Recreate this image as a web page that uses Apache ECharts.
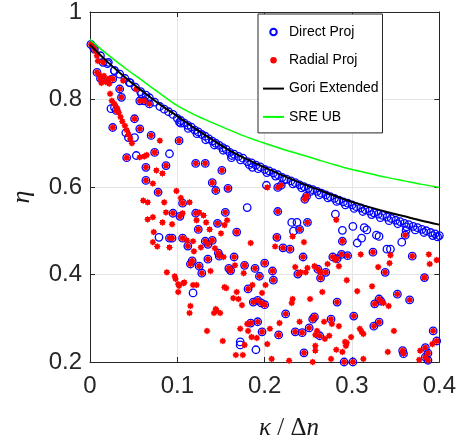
<!DOCTYPE html>
<html><head><meta charset="utf-8">
<script src="https://cdn.jsdelivr.net/npm/echarts@6/dist/echarts.min.js"></script>
<style>html,body{margin:0;padding:0;background:#fff}#c{width:459px;height:439px}</style>
</head><body><div id="c"></div>
<script>
// ---- data ----
const curveX = [0,0.02,0.04,0.06,0.08,0.10,0.12,0.14,0.16,0.18,0.20,0.22,0.24,0.26,0.28,0.30,0.32,0.34,0.36,0.38,0.40];
const goriY  = [0.925,0.886,0.851,0.819,0.789,0.762,0.734,0.708,0.683,0.663,0.645,0.627,0.610,0.595,0.580,0.566,0.554,0.543,0.533,0.523,0.514];
const sreY   = [0.937,0.903,0.872,0.843,0.814,0.786,0.765,0.747,0.730,0.714,0.700,0.687,0.675,0.663,0.651,0.640,0.631,0.622,0.614,0.606,0.599];

// blue circles lying along the bound
const bandPts = [
[0.005,0.915],[0.012,0.900],[0.020,0.882],[0.028,0.866],[0.034,0.858],[0.040,0.848],[0.046,0.838],[0.052,0.828],[0.058,0.818],[0.064,0.810],
[0.068,0.804],[0.074,0.794],[0.080,0.784],[0.085,0.778],[0.090,0.772],[0.095,0.766],[0.100,0.757],[0.104,0.752],[0.108,0.746],[0.112,0.741],
[0.116,0.737],[0.120,0.730],[0.124,0.726],[0.128,0.720],[0.132,0.716],[0.136,0.710],[0.140,0.705],[0.144,0.700],[0.148,0.695],[0.152,0.690],
[0.156,0.686],[0.160,0.679],[0.165,0.675],[0.170,0.670],[0.175,0.666],[0.180,0.658],[0.185,0.655],[0.190,0.650],[0.195,0.646],[0.200,0.640],
[0.205,0.637],[0.210,0.632],[0.215,0.628],[0.220,0.622],[0.225,0.618],[0.230,0.614],[0.235,0.610],[0.240,0.605],[0.245,0.601],[0.250,0.597],
[0.255,0.594],[0.260,0.590],[0.265,0.586],[0.270,0.582],[0.275,0.578],[0.280,0.574],[0.285,0.570],[0.290,0.566],[0.295,0.563],[0.300,0.559],
[0.305,0.555],[0.310,0.552],[0.315,0.548],[0.320,0.545],[0.325,0.541],[0.330,0.538],[0.335,0.535],[0.340,0.531],[0.345,0.528],[0.350,0.524],
[0.355,0.521],[0.360,0.517],[0.365,0.514],[0.370,0.510],[0.375,0.507],[0.380,0.503],[0.385,0.500],[0.390,0.496],[0.395,0.493],[0.400,0.489],
[0.1025,0.748],[0.1125,0.734],[0.1225,0.722],[0.1325,0.708],[0.1425,0.696],[0.1525,0.684],[0.1625,0.672],[0.1725,0.662],[0.1825,0.651],[0.1925,0.642],
[0.2025,0.633],[0.2125,0.625],[0.2225,0.616],[0.2325,0.607],[0.2425,0.598],[0.2525,0.590],[0.2625,0.582],[0.2725,0.575],[0.2825,0.567],[0.2925,0.559],
[0.3025,0.551],[0.3125,0.544],[0.3225,0.537],[0.3325,0.530],[0.3425,0.523],[0.3525,0.516],[0.3625,0.509],[0.3725,0.502],[0.3825,0.496],[0.3925,0.489],[0.398,0.486]
];

// points found by both methods (blue circle with red dot)
const pairedPts = [
[0.001,0.926],[0.004,0.919],[0.008,0.862],[0.012,0.848],[0.015,0.885],[0.026,0.847],[0.034,0.824],[0.036,0.805],[0.057,0.797],[0.062,0.797],
[0.068,0.790],[0.030,0.775],[0.051,0.756],[0.026,0.736],[0.057,0.733],[0.070,0.718],[0.102,0.706],[0.042,0.667],[0.074,0.679],[0.087,0.649],
[0.064,0.645],[0.064,0.615],[0.078,0.588],[0.121,0.654],[0.132,0.654],[0.140,0.610],[0.144,0.592],[0.151,0.638],[0.158,0.597],
[0.106,0.563],[0.095,0.540],[0.121,0.540],[0.155,0.542],[0.103,0.533],[0.124,0.503],[0.146,0.517],[0.168,0.497],[0.106,0.483],[0.112,0.465],
[0.132,0.476],[0.135,0.469],[0.140,0.478],[0.147,0.449],[0.148,0.442],[0.165,0.440],[0.135,0.435],[0.117,0.431],[0.115,0.424],[0.125,0.419],
[0.128,0.403],[0.159,0.414],[0.161,0.409],[0.177,0.421],[0.189,0.414],[0.194,0.396],[0.200,0.426],[0.181,0.367],[0.187,0.337],[0.192,0.341],
[0.196,0.335],[0.200,0.331],[0.184,0.289],[0.192,0.292],[0.197,0.269],[0.091,0.483],[0.094,0.483],
[0.215,0.544],[0.249,0.519],[0.240,0.503],[0.214,0.485],[0.221,0.461],[0.229,0.458],[0.244,0.440],[0.246,0.572],[0.289,0.476],[0.278,0.440],
[0.283,0.436],[0.288,0.446],[0.295,0.443],[0.324,0.451],[0.338,0.405],[0.369,0.442],[0.383,0.393],[0.361,0.490],[0.209,0.408],[0.210,0.387],
[0.238,0.401],[0.261,0.412],[0.270,0.405],[0.264,0.392],[0.331,0.344],[0.333,0.339],[0.326,0.333],[0.352,0.355],[0.366,0.342],[0.283,0.337],
[0.224,0.310],[0.216,0.262],[0.235,0.269],[0.243,0.267],[0.251,0.278],[0.255,0.298],[0.257,0.303],[0.276,0.298],[0.263,0.260],[0.302,0.305],
[0.325,0.282],[0.331,0.291],[0.358,0.226],[0.359,0.219],[0.384,0.233],[0.387,0.220],[0.384,0.211],[0.387,0.204],[0.393,0.271],[0.397,0.248],
[0.245,0.221],[0.291,0.200],[0.301,0.200],[0.215,0.599],[0.219,0.604],[0.248,0.579]
];

// points only from the radial projection
const radialOnly = [
[0.006,0.911],[0.008,0.900],[0.009,0.888],[0.010,0.858],[0.013,0.851],[0.016,0.854],[0.020,0.845],[0.013,0.838],[0.022,0.848],[0.018,0.840],
[0.022,0.836],[0.038,0.843],[0.053,0.824],[0.023,0.813],[0.025,0.797],[0.028,0.790],[0.031,0.780],[0.033,0.770],[0.035,0.760],[0.037,0.750],
[0.040,0.740],[0.042,0.730],[0.044,0.720],[0.046,0.710],[0.048,0.700],[0.080,0.706],[0.057,0.668],[0.062,0.670],[0.065,0.673],[0.076,0.638],
[0.083,0.631],[0.072,0.608],[0.099,0.591],[0.104,0.575],
[0.061,0.569],[0.066,0.565],[0.085,0.565],[0.114,0.565],[0.087,0.542],[0.106,0.540],[0.125,0.542],[0.072,0.531],[0.130,0.535],[0.122,0.524],
[0.133,0.519],[0.137,0.503],[0.157,0.524],[0.154,0.513],[0.150,0.494],[0.184,0.472],[0.111,0.478],[0.118,0.476],[0.127,0.462],[0.143,0.460],
[0.153,0.440],[0.119,0.453],[0.138,0.408],[0.166,0.421],[0.176,0.403],[0.098,0.390],[0.101,0.378],[0.107,0.380],[0.118,0.376],[0.122,0.376],
[0.101,0.360],[0.156,0.369],[0.168,0.360],[0.164,0.346],[0.170,0.344],[0.174,0.330],[0.186,0.376],[0.197,0.358],[0.115,0.328],[0.114,0.312],
[0.142,0.312],[0.145,0.317],[0.149,0.312],[0.134,0.271],[0.152,0.248],[0.172,0.276],[0.181,0.271],[0.180,0.287],[0.185,0.257],[0.191,0.255],
[0.177,0.239],[0.167,0.216],[0.175,0.216],
[0.066,0.526],[0.073,0.497],[0.072,0.474],[0.077,0.464],[0.083,0.519],[0.094,0.515],[0.091,0.462],[0.088,0.405],[0.097,0.396],[0.102,0.374],
[0.108,0.382],[0.144,0.321],[0.154,0.371],
[0.212,0.464],[0.232,0.487],[0.245,0.474],[0.282,0.525],[0.310,0.446],[0.344,0.444],[0.343,0.426],[0.388,0.446],[0.389,0.424],[0.397,0.433],
[0.201,0.376],[0.241,0.405],[0.247,0.405],[0.235,0.417],[0.249,0.415],[0.264,0.405],[0.257,0.419],[0.272,0.424],[0.285,0.419],[0.281,0.433],
[0.294,0.387],[0.306,0.362],[0.323,0.373],[0.342,0.328],[0.336,0.335],[0.330,0.417],[0.232,0.344],[0.252,0.344],[0.266,0.360],[0.217,0.289],
[0.206,0.276],[0.240,0.292],[0.268,0.292],[0.277,0.287],[0.260,0.271],[0.258,0.262],[0.285,0.282],[0.309,0.276],[0.311,0.269],[0.313,0.264],
[0.299,0.257],[0.292,0.246],[0.293,0.237],[0.341,0.223],[0.348,0.271],[0.378,0.226],[0.377,0.205],[0.392,0.241],[0.203,0.241],[0.208,0.207],
[0.228,0.203],[0.255,0.200],[0.258,0.237],[0.258,0.226],[0.269,0.253],[0.289,0.223],[0.276,0.207],[0.231,0.335],[0.282,0.228],[0.294,0.244],
[0.274,0.260],[0.313,0.207],[0.203,0.599]
];

// points only from the direct projection
const directOnly = [
[0.021,0.885],[0.028,0.866],[0.045,0.839],[0.059,0.813],[0.028,0.782],[0.051,0.713],[0.053,0.672],[0.091,0.676],[0.104,0.746],[0.024,0.779],
[0.041,0.724],[0.044,0.713],[0.079,0.485],[0.180,0.553],[0.118,0.358],[0.172,0.246],[0.172,0.239],[0.190,0.228],[0.231,0.519],[0.237,0.519],
[0.233,0.499],[0.281,0.538],[0.289,0.501],[0.301,0.510],[0.314,0.507],[0.317,0.502],[0.306,0.472],[0.311,0.483],[0.328,0.490],[0.331,0.487],
[0.340,0.458],[0.344,0.458],[0.357,0.474],[0.362,0.501],[0.202,0.604],[0.186,0.645],[0.162,0.667]
];

const xTicks = [0, 0.1, 0.2, 0.3, 0.4];
const yTicks = [0.2, 0.4, 0.6, 0.8, 1];

// ---- chart ----
function starPath(n, ro, ri) {
  let d = '';
  for (let i = 0; i < 2 * n; i++) {
    const r = i % 2 ? ri : ro;
    const a = i * Math.PI / n - Math.PI / 2;
    d += (i ? 'L' : 'M') + (r * Math.cos(a)).toFixed(3) + ' ' + (r * Math.sin(a)).toFixed(3);
  }
  return 'path://' + d + 'Z';
}
const redSymbol = starPath(8, 1, 0.72);
const AX = '#262626';
const fmt = v => String(Math.round(v * 10) / 10);

const chart = echarts.init(document.getElementById('c'), null, {renderer: 'canvas'});
const baseX = {type: 'value', min: xTicks[0], max: xTicks[xTicks.length - 1], interval: 0.1};
const baseY = {type: 'value', min: yTicks[0], max: yTicks[yTicks.length - 1], interval: 0.2};
chart.setOption({
  animation: false,
  backgroundColor: '#fff',
  grid: {left: 90, right: 17, top: 11, bottom: 77, containLabel: false},
  xAxis: [
    Object.assign({}, baseX, {
      position: 'bottom',
      axisLine: {show: true, onZero: false, lineStyle: {color: AX, width: 1}},
      axisTick: {show: true, inside: true, length: 5, lineStyle: {color: AX}},
      axisLabel: {fontSize: 24, color: AX, fontFamily: 'Liberation Sans', margin: 12, formatter: fmt},
      splitLine: {show: true, lineStyle: {color: '#e4e4e4', width: 1}}
    }),
    Object.assign({}, baseX, {
      position: 'top',
      axisLine: {show: true, onZero: false, lineStyle: {color: AX, width: 1}},
      axisTick: {show: true, inside: true, length: 5, lineStyle: {color: AX}},
      axisLabel: {show: false}, splitLine: {show: false}
    })
  ],
  yAxis: [
    Object.assign({}, baseY, {
      position: 'left',
      axisLine: {show: true, onZero: false, lineStyle: {color: AX, width: 1}},
      axisTick: {show: true, inside: true, length: 5, lineStyle: {color: AX}},
      axisLabel: {fontSize: 24, color: AX, fontFamily: 'Liberation Sans', margin: 8, formatter: fmt},
      splitLine: {show: true, lineStyle: {color: '#e4e4e4', width: 1}}
    }),
    Object.assign({}, baseY, {
      position: 'right',
      axisLine: {show: true, onZero: false, lineStyle: {color: AX, width: 1}},
      axisTick: {show: true, inside: true, length: 5, lineStyle: {color: AX}},
      axisLabel: {show: false}, splitLine: {show: false}
    })
  ],
  legend: {
    orient: 'vertical', left: 258, top: 14,
    padding: [11, 4, 9, 4], itemGap: 14.3, itemWidth: 21, itemHeight: 6.5,
    backgroundColor: '#fff', borderColor: AX, borderWidth: 1,
    textStyle: {fontSize: 14, fontFamily: 'Liberation Sans', color: '#000', lineHeight: 14},
    data: [
      {name: 'Direct Proj', icon: 'circle'},
      {name: 'Radial Proj', icon: 'circle'},
      {name: 'Gori Extended', itemStyle: {opacity: 0}},
      {name: 'SRE UB', itemStyle: {opacity: 0}}
    ]
  },
  graphic: [
    {type: 'text', x: 289, y: 428, z: 10, style: {
      text: '{i|κ}{r| / Δ}{i|n}', align: 'center', verticalAlign: 'middle', fill: '#1a1a1a',
      rich: {
        i: {fontFamily: 'Liberation Serif', fontStyle: 'italic', fontSize: 25, fill: '#1a1a1a'},
        r: {fontFamily: 'Liberation Serif', fontSize: 25, fill: '#1a1a1a'}
      }}},
    {type: 'text', x: 22, y: 197, rotation: Math.PI / 2, z: 10, style: {
      text: 'η', align: 'center', verticalAlign: 'middle', fill: '#1a1a1a',
      font: 'italic 26px "Liberation Serif"'}}
  ],
  series: [
    {
      name: 'Direct Proj', type: 'scatter', xAxisIndex: 0, yAxisIndex: 0, z: 2,
      symbol: 'circle', symbolSize: 7.5,
      itemStyle: {color: 'rgba(255,255,255,0)', borderColor: '#0000ff', borderWidth: 1.3, opacity: 1},
      data: bandPts.concat(pairedPts, directOnly)
    },
    {
      name: 'Radial Proj', type: 'scatter', xAxisIndex: 0, yAxisIndex: 0, z: 3,
      symbol: redSymbol, symbolSize: 7,
      itemStyle: {color: '#ff0000', opacity: 1},
      data: pairedPts.concat(radialOnly)
    },
    {
      name: 'Gori Extended', type: 'line', xAxisIndex: 0, yAxisIndex: 0, z: 4,
      showSymbol: false, symbol: 'none', smooth: 0.3,
      lineStyle: {color: '#000000', width: 2}, itemStyle: {color: '#000000'},
      data: curveX.map((x, i) => [x, goriY[i]])
    },
    {
      name: 'SRE UB', type: 'line', xAxisIndex: 0, yAxisIndex: 0, z: 4,
      showSymbol: false, symbol: 'none', smooth: 0.3,
      lineStyle: {color: '#00ff00', width: 1.5}, itemStyle: {color: '#00ff00'},
      data: curveX.map((x, i) => [x, sreY[i]])
    }
  ]
});
</script>
</body></html>
